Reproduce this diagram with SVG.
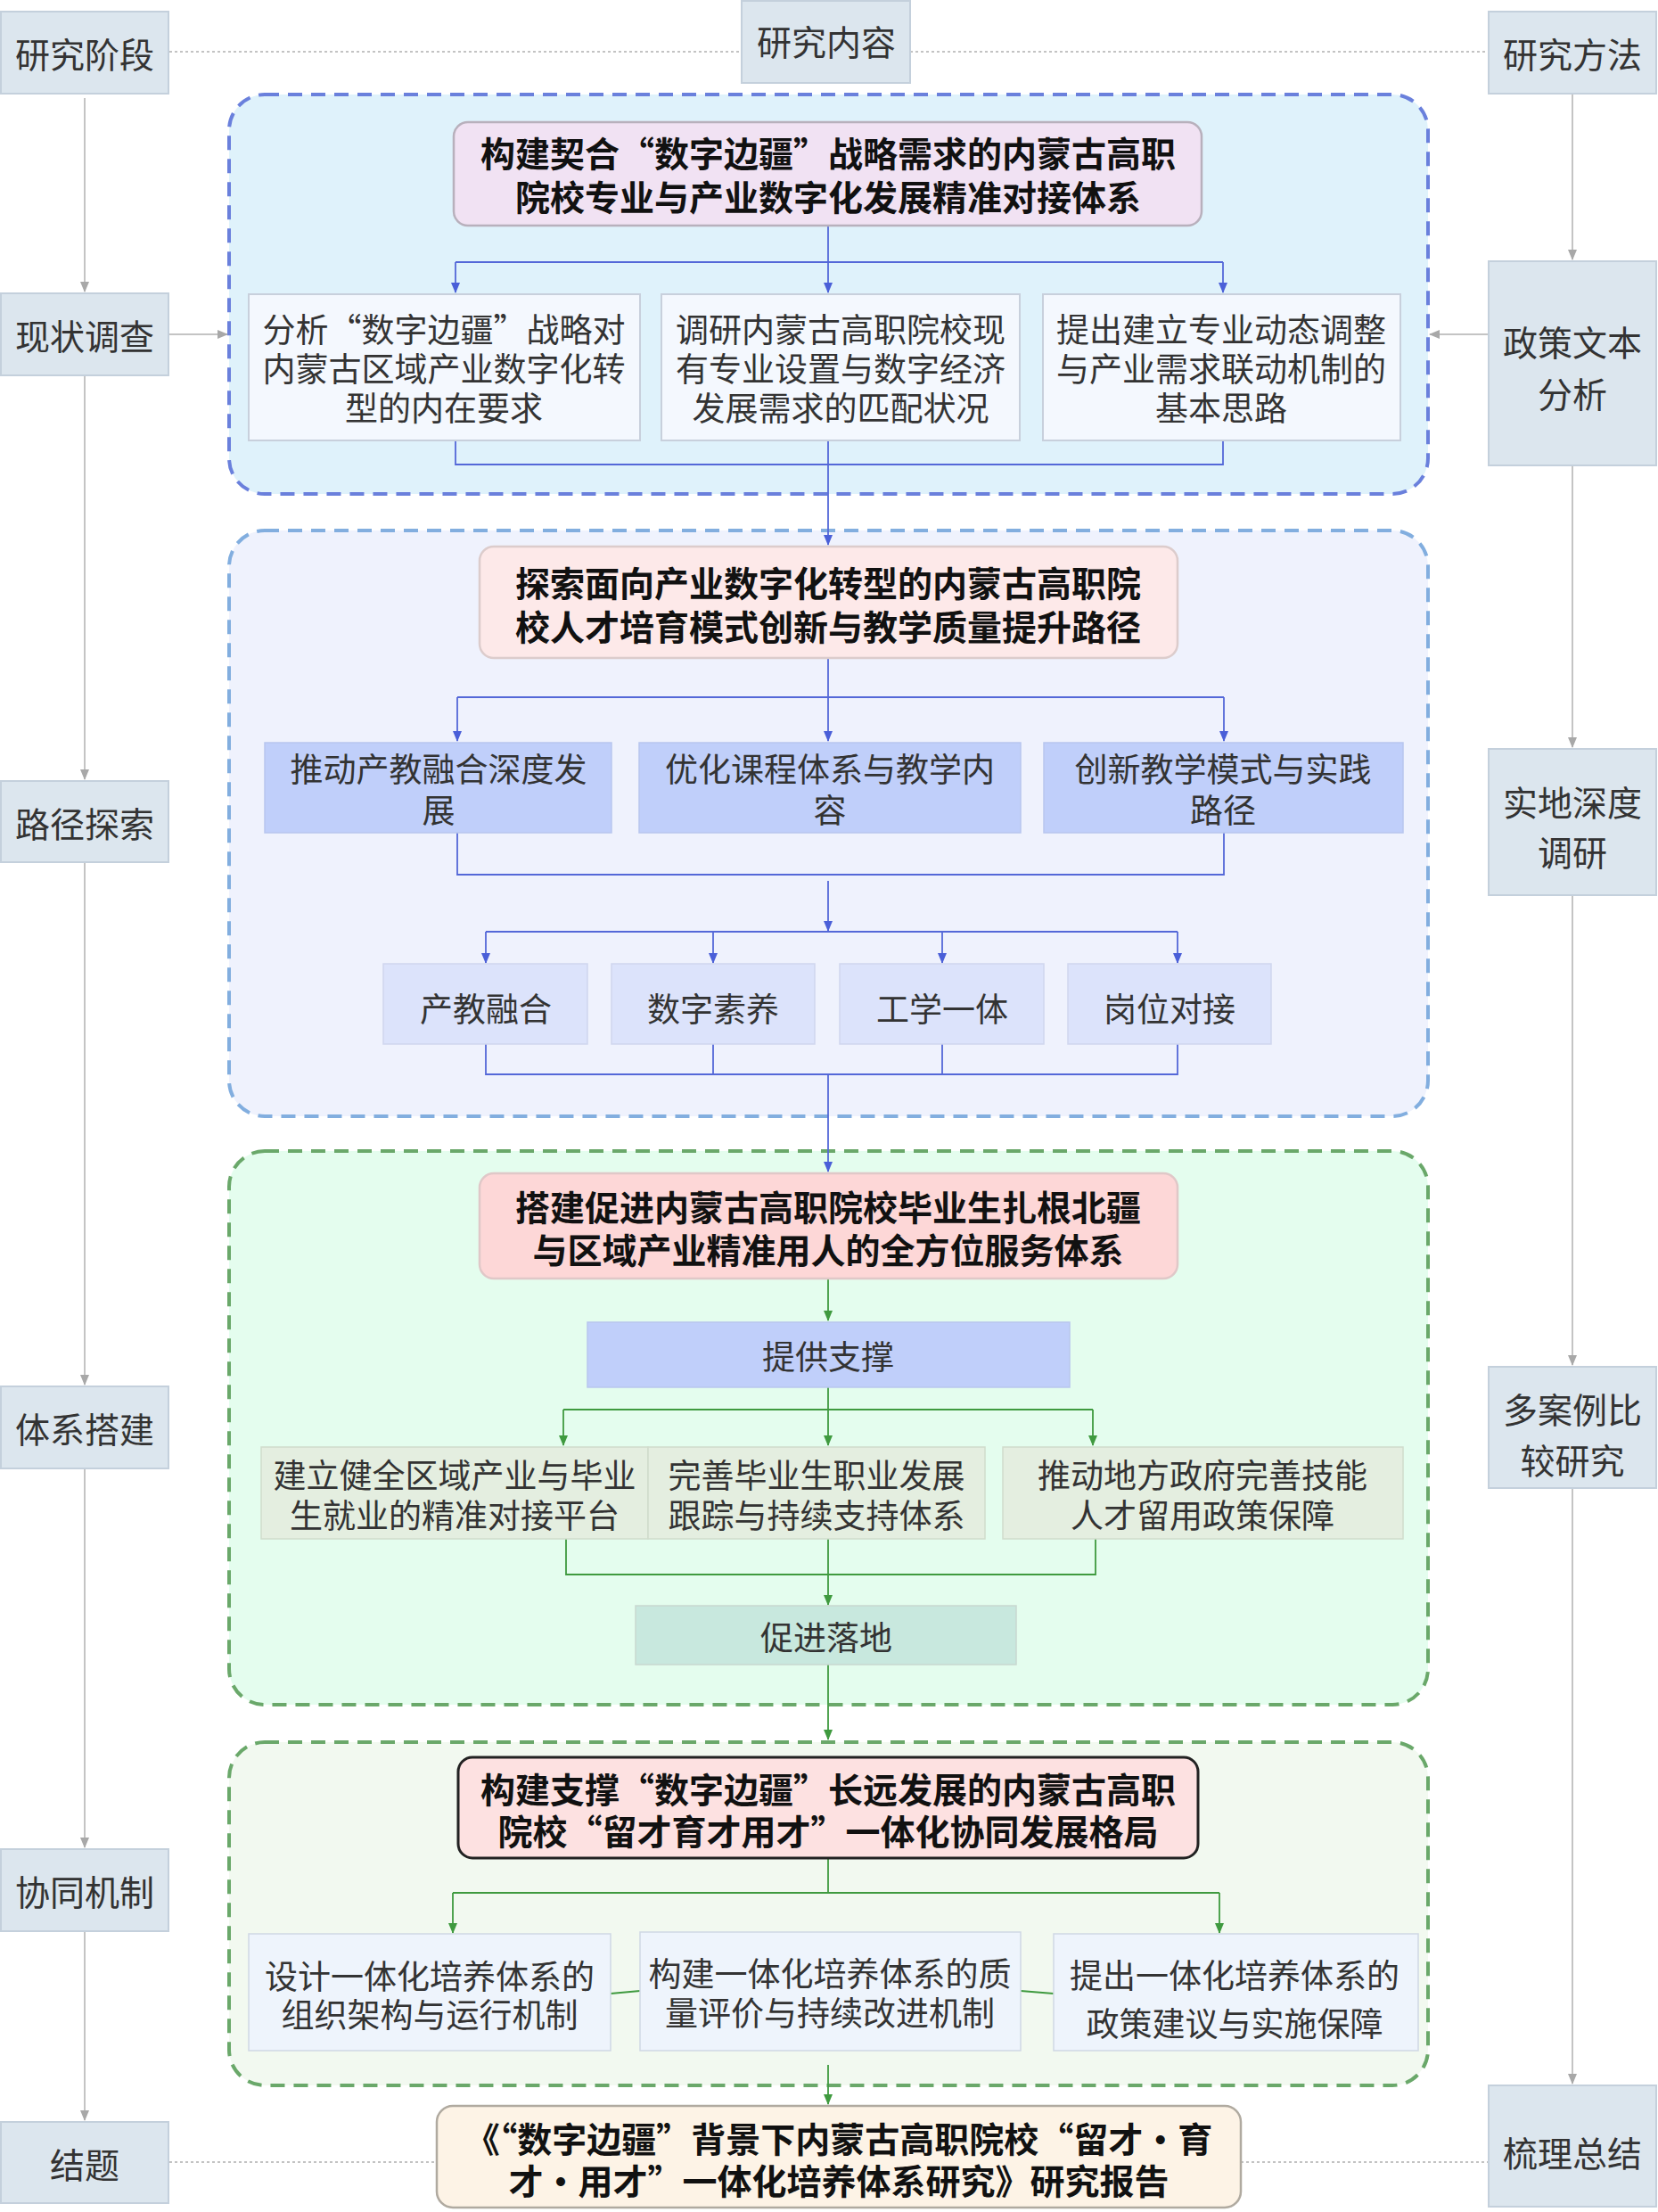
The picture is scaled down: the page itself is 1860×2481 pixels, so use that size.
<svg xmlns="http://www.w3.org/2000/svg" width="1860" height="2481" viewBox="0 0 1860 2481">
<defs>
<style>
text{font-family:"Noto Sans CJK SC","Noto Sans",sans-serif;fill:#333;text-anchor:middle;dominant-baseline:central}
.t{font-size:39px;font-weight:bold;fill:#111}
.b{font-size:37px}
.s{font-size:39px}
.side{fill:#dce6ee;stroke:#c4d0dc;stroke-width:2}
.gl{stroke:#b0b0b0;stroke-width:1.5;fill:none}
.bl{stroke:#5468d8;stroke-width:1.8;fill:none}
.gn{stroke:#3f9a3f;stroke-width:1.8;fill:none}
</style>
<marker id="ag" markerWidth="10" markerHeight="12" refX="5" refY="11" markerUnits="userSpaceOnUse" viewBox="0 0 10 12"><path d="M0,0 L5,12 L10,0 Z" fill="#a8a8a8"/></marker>
<marker id="ab" markerWidth="10" markerHeight="12" refX="5" refY="11" markerUnits="userSpaceOnUse" viewBox="0 0 10 12"><path d="M0,0 L5,12 L10,0 Z" fill="#4a5fd8"/></marker>
<marker id="an" markerWidth="10" markerHeight="12" refX="5" refY="11" markerUnits="userSpaceOnUse" viewBox="0 0 10 12"><path d="M0,0 L5,12 L10,0 Z" fill="#3f9a3f"/></marker>
<marker id="agr" markerWidth="12" markerHeight="10" refX="11" refY="5" markerUnits="userSpaceOnUse" viewBox="0 0 12 10"><path d="M0,0 L12,5 L0,10 Z" fill="#a8a8a8"/></marker>
<marker id="agl" markerWidth="12" markerHeight="10" refX="1" refY="5" markerUnits="userSpaceOnUse" viewBox="0 0 12 10"><path d="M12,0 L0,5 L12,10 Z" fill="#a8a8a8"/></marker>
</defs>
<rect width="1860" height="2481" fill="#fff"/>

<g id="containers">
<rect x="257" y="106" width="1345" height="448" rx="40" fill="#dff2fb" stroke="#6a80dc" stroke-width="4" stroke-dasharray="16,10"/>
<rect x="257" y="595" width="1345" height="657" rx="40" fill="#eff2fd" stroke="#82aedf" stroke-width="4" stroke-dasharray="16,10"/>
<rect x="257" y="1291" width="1345" height="621" rx="40" fill="#e4fdee" stroke="#6aa86a" stroke-width="4" stroke-dasharray="16,10"/>
<rect x="257" y="1954" width="1345" height="385" rx="40" fill="#f2f9f0" stroke="#6aa86a" stroke-width="4" stroke-dasharray="16,10"/>
</g>

<g id="connectors">
<path class="gl" d="M190,58 H831 M1021,58 H1669" stroke-dasharray="3,3"/>
<path class="gl" d="M190,2425 H489 M1392,2425 H1669" stroke-dasharray="3,3"/>
<path class="gl" d="M95,110 V327" marker-end="url(#ag)"/>
<path class="gl" d="M95,421 V874" marker-end="url(#ag)"/>
<path class="gl" d="M95,967 V1553" marker-end="url(#ag)"/>
<path class="gl" d="M95,1647 V2072" marker-end="url(#ag)"/>
<path class="gl" d="M95,2166 V2378" marker-end="url(#ag)"/>
<path class="gl" d="M1764,105 V291" marker-end="url(#ag)"/>
<path class="gl" d="M1764,522 V838" marker-end="url(#ag)"/>
<path class="gl" d="M1764,1004 V1531" marker-end="url(#ag)"/>
<path class="gl" d="M1764,1669 V2337" marker-end="url(#ag)"/>
<path class="gl" d="M190,375 H255" marker-end="url(#agr)"/>
<path class="gl" d="M1669,375 H1604" marker-end="url(#agl)"/>

<path class="bl" d="M511,294 H1372"/>
<path class="bl" d="M929,253 V328" marker-end="url(#ab)"/>
<path class="bl" d="M511,294 V328" marker-end="url(#ab)"/>
<path class="bl" d="M1372,294 V328" marker-end="url(#ab)"/>
<path class="bl" d="M511,494 V521 H1372 V494 M929,494 V521"/>
<path class="bl" d="M929,521 V611" marker-end="url(#ab)"/>
<path class="bl" d="M929,738 V831" marker-end="url(#ab)"/>
<path class="bl" d="M513,782 H1373"/>
<path class="bl" d="M513,782 V831" marker-end="url(#ab)"/>
<path class="bl" d="M1373,782 V831" marker-end="url(#ab)"/>
<path class="bl" d="M513,934 V981 H1373 V934"/>
<path class="bl" d="M929,988 V1044" marker-end="url(#ab)"/>
<path class="bl" d="M545,1045 H1321"/>
<path class="bl" d="M545,1045 V1080" marker-end="url(#ab)"/>
<path class="bl" d="M800,1045 V1080" marker-end="url(#ab)"/>
<path class="bl" d="M1057,1045 V1080" marker-end="url(#ab)"/>
<path class="bl" d="M1321,1045 V1080" marker-end="url(#ab)"/>
<path class="bl" d="M545,1171 V1205 H1321 V1171 M800,1171 V1205 M1057,1171 V1205"/>
<path class="bl" d="M929,1205 V1314" marker-end="url(#ab)"/>

<path class="gn" d="M929,1434 V1481" marker-end="url(#an)"/>
<path class="gn" d="M632,1581 H1226"/>
<path class="gn" d="M929,1556 V1621" marker-end="url(#an)"/>
<path class="gn" d="M632,1581 V1621" marker-end="url(#an)"/>
<path class="gn" d="M1226,1581 V1621" marker-end="url(#an)"/>
<path class="gn" d="M635,1726 V1766 H1229 V1726 M929,1726 V1766"/>
<path class="gn" d="M929,1766 V1800" marker-end="url(#an)"/>
<path class="gn" d="M929,1867 V1951" marker-end="url(#an)"/>
<path class="gn" d="M929,2084 V2122"/>
<path class="gn" d="M508,2123 H1368"/>
<path class="gn" d="M508,2123 V2168" marker-end="url(#an)"/>
<path class="gn" d="M1368,2123 V2168" marker-end="url(#an)"/>
<path class="gn" d="M685,2236 L718,2233 M1145,2233 L1182,2236"/>
<path class="gn" d="M929,2316 V2360" marker-end="url(#an)"/>
</g>

<g id="side-left">
<rect class="side" x="1" y="13" width="188" height="92"/><text class="s" x="95" y="59">研究阶段</text>
<rect class="side" x="1" y="329" width="188" height="92"/><text class="s" x="95" y="375">现状调查</text>
<rect class="side" x="1" y="876" width="188" height="91"/><text class="s" x="95" y="922">路径探索</text>
<rect class="side" x="1" y="1555" width="188" height="92"/><text class="s" x="95" y="1601">体系搭建</text>
<rect class="side" x="1" y="2074" width="188" height="92"/><text class="s" x="95" y="2120">协同机制</text>
<rect class="side" x="1" y="2380" width="188" height="91"/><text class="s" x="95" y="2426">结题</text>
</g>
<g id="side-center">
<rect class="side" x="832" y="1" width="189" height="92"/><text class="s" x="927" y="45">研究内容</text>
</g>
<g id="side-right">
<rect class="side" x="1670" y="13" width="188" height="92"/><text class="s" x="1764" y="59">研究方法</text>
<rect class="side" x="1670" y="293" width="188" height="229"/><text class="s" x="1764" y="382">政策文本</text><text class="s" x="1764" y="440">分析</text>
<rect class="side" x="1670" y="840" width="188" height="164"/><text class="s" x="1764" y="898">实地深度</text><text class="s" x="1764" y="954">调研</text>
<rect class="side" x="1670" y="1533" width="188" height="136"/><text class="s" x="1764" y="1579">多案例比</text><text class="s" x="1764" y="1636">较研究</text>
<rect class="side" x="1670" y="2339" width="188" height="136"/><text class="s" x="1764" y="2413">梳理总结</text>
</g>

<g id="n1">
<rect x="509" y="137" width="839" height="116" rx="16" fill="#f1e2f3" stroke="#b8b0bc" stroke-width="2.5"/>
<text class="t" x="929" y="170">构建契合“数字边疆”战略需求的内蒙古高职</text>
<text class="t" x="929" y="219">院校专业与产业数字化发展精准对接体系</text>
</g>
<g id="n1a"><rect x="279" y="330" width="439" height="164" fill="#f4f8fe" stroke="#c8d0dc" stroke-width="2"/>
<text class="b" x="498" y="368">分析“数字边疆”战略对</text><text class="b" x="498" y="412">内蒙古区域产业数字化转</text><text class="b" x="498" y="456">型的内在要求</text></g>
<g id="n1b"><rect x="742" y="330" width="402" height="164" fill="#f4f8fe" stroke="#c8d0dc" stroke-width="2"/>
<text class="b" x="943" y="368">调研内蒙古高职院校现</text><text class="b" x="943" y="412">有专业设置与数字经济</text><text class="b" x="943" y="456">发展需求的匹配状况</text></g>
<g id="n1c"><rect x="1170" y="330" width="401" height="164" fill="#f4f8fe" stroke="#c8d0dc" stroke-width="2"/>
<text class="b" x="1370" y="368">提出建立专业动态调整</text><text class="b" x="1370" y="412">与产业需求联动机制的</text><text class="b" x="1370" y="456">基本思路</text></g>

<g id="n2">
<rect x="538" y="613" width="783" height="125" rx="16" fill="#fde9e9" stroke="#dccccc" stroke-width="2.5"/>
<text class="t" x="929" y="652">探索面向产业数字化转型的内蒙古高职院</text>
<text class="t" x="929" y="701">校人才培育模式创新与教学质量提升路径</text>
</g>
<g id="n2a"><rect x="297" y="833" width="389" height="101" fill="#c0cffa" stroke="#b8c6ee" stroke-width="1.5"/>
<text class="b" x="492" y="861">推动产教融合深度发</text><text class="b" x="492" y="907">展</text></g>
<g id="n2b"><rect x="717" y="833" width="428" height="101" fill="#c0cffa" stroke="#b8c6ee" stroke-width="1.5"/>
<text class="b" x="931" y="861">优化课程体系与教学内</text><text class="b" x="931" y="907">容</text></g>
<g id="n2c"><rect x="1171" y="833" width="403" height="101" fill="#c0cffa" stroke="#b8c6ee" stroke-width="1.5"/>
<text class="b" x="1372" y="861">创新教学模式与实践</text><text class="b" x="1372" y="907">路径</text></g>
<g id="n2d"><rect x="430" y="1081" width="229" height="90" fill="#dce3fb" stroke="#cfd6ee" stroke-width="1.5"/><text class="b" x="545" y="1130">产教融合</text></g>
<g id="n2e"><rect x="686" y="1081" width="228" height="90" fill="#dce3fb" stroke="#cfd6ee" stroke-width="1.5"/><text class="b" x="800" y="1130">数字素养</text></g>
<g id="n2f"><rect x="942" y="1081" width="229" height="90" fill="#dce3fb" stroke="#cfd6ee" stroke-width="1.5"/><text class="b" x="1057" y="1130">工学一体</text></g>
<g id="n2g"><rect x="1198" y="1081" width="228" height="90" fill="#dce3fb" stroke="#cfd6ee" stroke-width="1.5"/><text class="b" x="1312" y="1130">岗位对接</text></g>

<g id="n3">
<rect x="538" y="1316" width="783" height="118" rx="16" fill="#fdd7d7" stroke="#e0c8c8" stroke-width="2.5"/>
<text class="t" x="929" y="1352">搭建促进内蒙古高职院校毕业生扎根北疆</text>
<text class="t" x="929" y="1400">与区域产业精准用人的全方位服务体系</text>
</g>
<g id="n3a"><rect x="659" y="1483" width="541" height="73" fill="#c0cffa" stroke="#b8c6ee" stroke-width="1.5"/><text class="b" x="929" y="1520">提供支撑</text></g>
<g id="n3b"><rect x="293" y="1623" width="434" height="103" fill="#e4eee0" stroke="#d0dccc" stroke-width="1.5"/>
<text class="b" x="510" y="1653">建立健全区域产业与毕业</text><text class="b" x="510" y="1698">生就业的精准对接平台</text></g>
<g id="n3c"><rect x="727" y="1623" width="378" height="103" fill="#e4eee0" stroke="#d0dccc" stroke-width="1.5"/>
<text class="b" x="916" y="1653">完善毕业生职业发展</text><text class="b" x="916" y="1698">跟踪与持续支持体系</text></g>
<g id="n3d"><rect x="1125" y="1623" width="449" height="103" fill="#e4eee0" stroke="#d0dccc" stroke-width="1.5"/>
<text class="b" x="1349" y="1653">推动地方政府完善技能</text><text class="b" x="1349" y="1698">人才留用政策保障</text></g>
<g id="n3e"><rect x="713" y="1801" width="427" height="66" fill="#c8e8de" stroke="#c8d8d0" stroke-width="1.5"/><text class="b" x="927" y="1835">促进落地</text></g>

<g id="n4">
<rect x="514" y="1971" width="830" height="113" rx="16" fill="#fde1e1" stroke="#222" stroke-width="3"/>
<text class="t" x="929" y="2005">构建支撑“数字边疆”长远发展的内蒙古高职</text>
<text class="t" x="929" y="2052">院校“留才育才用才”一体化协同发展格局</text>
</g>
<g id="n4a"><rect x="279" y="2169" width="406" height="131" fill="#eef4fc" stroke="#cfd8e4" stroke-width="1.5"/>
<text class="b" x="482" y="2215">设计一体化培养体系的</text><text class="b" x="482" y="2258">组织架构与运行机制</text></g>
<g id="n4b"><rect x="718" y="2167" width="427" height="133" fill="#eef4fc" stroke="#cfd8e4" stroke-width="1.5"/>
<text class="b" x="931" y="2212">构建一体化培养体系的质</text><text class="b" x="931" y="2256">量评价与持续改进机制</text></g>
<g id="n4c"><rect x="1182" y="2169" width="409" height="131" fill="#eef4fc" stroke="#cfd8e4" stroke-width="1.5"/>
<text class="b" x="1385" y="2214">提出一体化培养体系的</text><text class="b" x="1385" y="2268">政策建议与实施保障</text></g>

<g id="n5">
<rect x="490" y="2362" width="902" height="114" rx="18" fill="#fdf3e6" stroke="#b0aaa0" stroke-width="2.5"/>
<text class="t" x="941" y="2397">《“数字边疆”背景下内蒙古高职院校“留才•育</text>
<text class="t" x="941" y="2444">才•用才”一体化培养体系研究》研究报告</text>
</g>
</svg>
